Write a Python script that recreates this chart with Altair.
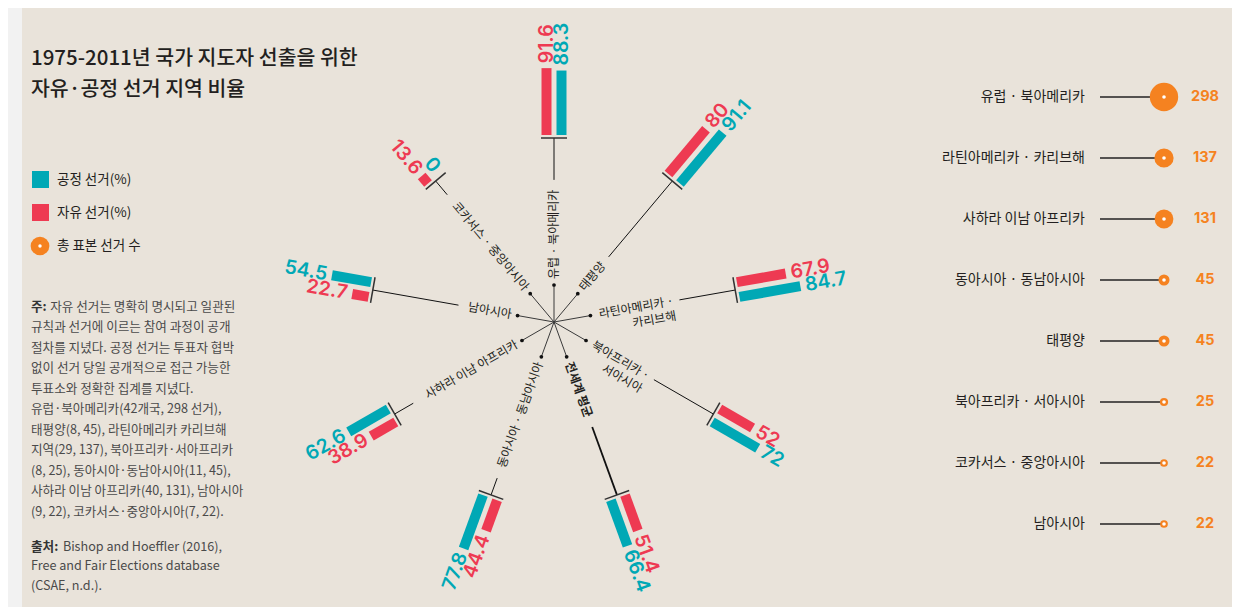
import altair as alt
import pandas as pd

# ---------------- data ----------------
spoke_regions = ["유럽 · 북아메리카", "태평양", "라틴아메리카 · 카리브해", "북아프리카 · 서아시아",
                 "전세계 평균", "동아시아 · 동남아시아", "사하라 이남 아프리카", "남아시아",
                 "코카서스 · 중앙아시아"]
spoke_label_lines = [["유럽 · 북아메리카"], ["태평양"], ["라틴아메리카 ·", "카리브해"],
                     ["북아프리카 ·", "서아시아"], ["전세계 평균"], ["동아시아 · 동남아시아"],
                     ["사하라 이남 아프리카"], ["남아시아"], ["코카서스 · 중앙아시아"]]
fair_pct = [88.3, 91.1, 84.7, 72, 66.4, 77.8, 62.6, 54.5, 0]
free_pct = [91.6, 80, 67.9, 52, 51.4, 44.4, 38.9, 22.7, 13.6]

count_regions = ["유럽 · 북아메리카", "라틴아메리카 · 카리브해", "사하라 이남 아프리카",
                 "동아시아 · 동남아시아", "태평양", "북아프리카 · 서아시아",
                 "코카서스 · 중앙아시아", "남아시아"]
election_counts = [298, 137, 131, 45, 45, 25, 22, 22]

legend_labels = ["공정 선거(%)", "자유 선거(%)", "총 표본 선거 수"]
legend_kinds = ["fair", "free", "count"]

title_lines = ["1975-2011년 국가 지도자 선출을 위한", "자유·공정 선거 지역 비율"]
note_head = "주:"
note_lines = ["자유 선거는 명확히 명시되고 일관된",
              "규칙과 선거에 이르는 참여 과정이 공개",
              "절차를 지녔다. 공정 선거는 투표자 협박",
              "없이 선거 당일 공개적으로 접근 가능한",
              "투표소와 정확한 집계를 지녔다.",
              "유럽·북아메리카(42개국, 298 선거),",
              "태평양(8, 45), 라틴아메리카 카리브해",
              "지역(29, 137), 북아프리카·서아프리카",
              "(8, 25), 동아시아·동남아시아(11, 45),",
              "사하라 이남 아프리카(40, 131), 남아시아",
              "(9, 22), 코카서스·중앙아시아(7, 22)."]
source_head = "출처:"
source_lines = ["Bishop and Hoeffler (2016),", "Free and Fair Elections database", "(CSAE, n.d.)."]

# ---------------- layout / style ----------------
W, H = 1224, 599
PAGE = 8
BG = "#E9E3DA"
STRIP = "#F2F2F2"
TEAL = "#00A8B5"
RED = "#EE3A52"
ORANGE = "#F58220"
INK = "#231F20"
NOTE = "#4A4A4A"
KR = "Noto Sans CJK KR"
NUM = "Inter"

CX, CY = 554, 322      # centre of the radial chart
STEP = 40              # degrees between spokes
R_DOT = 37
R_IN = 43
R0 = 184
GAP = 3
K = 0.73               # px per percentage point
OFF = 7.5
TICK = 13
LAB_FS = 12
LINE_H = 15
VAL_FS = 19.5

XS = alt.Scale(domain=[PAGE, PAGE + W], nice=False, zero=False)
YS = alt.Scale(domain=[PAGE + H, PAGE], nice=False, zero=False)


def X(f="x"):
    return alt.X(f"{f}:Q", scale=XS, axis=None)


def Y(f="y"):
    return alt.Y(f"{f}:Q", scale=YS, axis=None)


def est_w(s, f):
    w = 0.0
    for ch in s:
        if "\uac00" <= ch <= "\ud7a3":
            w += f
        elif ch == " ":
            w += 0.23 * f
        elif ch in "·:":
            w += 0.3 * f
        else:
            w += 0.55 * f
    return w


TH = f"datum.idx*{STEP}*PI/180"
ANG = f"datum.idx*{STEP} < 180 ? (datum.idx*{STEP}+270)%360 : (datum.idx*{STEP}+90)%360"


def px(r, o="0"):
    return f"{CX} + ({r})*sin(datum.th) + ({o})*cos(datum.th)"


def py(r, o="0"):
    return f"{CY} - ({r})*cos(datum.th) + ({o})*sin(datum.th)"


series_color = alt.Color("series:N", scale=alt.Scale(domain=["fair", "free"], range=[TEAL, RED]),
                         legend=None)

# ---------------- radial bars ----------------
n = len(spoke_regions)
bar_df = pd.DataFrame({
    "idx": list(range(n)) * 2,
    "region": spoke_regions * 2,
    "series": ["fair"] * n + ["free"] * n,
    "value": fair_pct + free_pct,
})
bar_df["label"] = [f"{v:g}" for v in bar_df["value"]]

base_bar = (alt.Chart(bar_df)
            .transform_calculate(th=TH)
            .transform_calculate(o=f"datum.series=='fair' ? {OFF} : {-OFF}")
            .transform_calculate(r1=f"{R0 + GAP}")
            .transform_calculate(r2=f"datum.r1 + datum.value*{K}")
            .transform_calculate(rl="datum.r2 + 5")
            .transform_calculate(x=px("datum.r1", "datum.o"), y=py("datum.r1", "datum.o"))
            .transform_calculate(x2=px("datum.r2", "datum.o"), y2=py("datum.r2", "datum.o"))
            .transform_calculate(lx=px("datum.rl", "datum.o"), ly=py("datum.rl", "datum.o"))
            .transform_calculate(ang=ANG))

bars = base_bar.mark_rule(strokeWidth=10, strokeCap="butt").encode(
    x=X(), y=Y(), x2="x2:Q", y2="y2:Q", color=series_color)

val_out = base_bar.transform_filter(f"datum.idx*{STEP} < 180").mark_text(
    align="left", baseline="middle", font=NUM, fontWeight=600, fontSize=VAL_FS).encode(
    x=X("lx"), y=Y("ly"), text="label:N", angle=alt.Angle("ang:Q", scale=None), color=series_color)

val_in = base_bar.transform_filter(f"datum.idx*{STEP} >= 180").mark_text(
    align="right", baseline="middle", font=NUM, fontWeight=600, fontSize=VAL_FS).encode(
    x=X("lx"), y=Y("ly"), text="label:N", angle=alt.Angle("ang:Q", scale=None), color=series_color)

# ---------------- spokes, ticks, connectors ----------------
spoke_df = pd.DataFrame({
    "idx": list(range(n)),
    "region": spoke_regions,
    "w": [max(est_w(t, LAB_FS) for t in lines) for lines in spoke_label_lines],
    "world": [r == "전세계 평균" for r in spoke_regions],
})
spoke_df["sw"] = [1.8 if w else 1.0 for w in spoke_df["world"]]

base_spoke = alt.Chart(spoke_df).transform_calculate(th=TH)

inner = base_spoke.transform_calculate(
    x=px("0"), y=py("0"), x2=px(R_DOT), y2=py(R_DOT)).mark_rule(
    color="#3A3A3A", strokeWidth=1).encode(x=X(), y=Y(), x2="x2:Q", y2="y2:Q")

dots = base_spoke.transform_calculate(x=px(R_DOT), y=py(R_DOT)).mark_circle(
    color="#111111", size=14, opacity=1).encode(x=X(), y=Y())

ticks = base_spoke.transform_calculate(
    x=px(R0, -TICK), y=py(R0, -TICK), x2=px(R0, TICK), y2=py(R0, TICK)).mark_rule(
    color="#333333", strokeWidth=1.5).encode(x=X(), y=Y(), x2="x2:Q", y2="y2:Q")

connectors = base_spoke.transform_calculate(rs=f"{R_IN} + datum.w + 6").transform_calculate(
    x=px("datum.rs"), y=py("datum.rs"), x2=px(R0), y2=py(R0)).mark_rule(
    color="#111111").encode(x=X(), y=Y(), x2="x2:Q", y2="y2:Q",
                            strokeWidth=alt.StrokeWidth("sw:Q", scale=None))

# ---------------- spoke labels ----------------
lab_rows = []
for i, lines in enumerate(spoke_label_lines):
    w = max(est_w(t, LAB_FS) for t in lines)
    inward = i * STEP >= 180
    if len(lines) > 1:
        kind = "out2"
    elif spoke_regions[i] == "전세계 평균":
        kind = "world"
    elif inward:
        kind = "in"
    else:
        kind = "out"
    for j, t in enumerate(lines):
        lab_rows.append({"idx": i, "line": j, "text": t, "kind": kind, "w": w})
lab_df = pd.DataFrame(lab_rows)

base_lab = (alt.Chart(lab_df)
            .transform_calculate(th=TH)
            .transform_calculate(r=f"datum.kind=='out2' ? {R_IN} + datum.w : {R_IN}")
            .transform_calculate(o=f"datum.line*{LINE_H}")
            .transform_calculate(x=px("datum.r", "datum.o"), y=py("datum.r", "datum.o"))
            .transform_calculate(ang=ANG))


def lab_layer(kind, align, weight="normal"):
    return base_lab.transform_filter(f"datum.kind=='{kind}'").mark_text(
        align=align, baseline="middle", font=KR, fontSize=LAB_FS, fontWeight=weight,
        color=INK).encode(x=X(), y=Y(), text="text:N", angle=alt.Angle("ang:Q", scale=None))


labels_out = lab_layer("out", "left")
labels_out2 = lab_layer("out2", "right")
labels_world = lab_layer("world", "left", "bold")
labels_in = lab_layer("in", "right")

# ---------------- right panel: number of elections ----------------
cnt_df = pd.DataFrame({"rank": list(range(len(count_regions))),
                       "region": count_regions, "count": election_counts})
base_cnt = alt.Chart(cnt_df).transform_calculate(y="97 + 61*datum.rank")

cnt_labels = base_cnt.transform_calculate(x="1085").mark_text(
    align="right", baseline="middle", font=KR, fontSize=14, color=INK).encode(
    x=X(), y=Y(), text="region:N")
cnt_lines = base_cnt.transform_calculate(x="1100", x2="1164").mark_rule(
    color="#222222", strokeWidth=1.3).encode(x=X(), y=Y(), x2="x2:Q")
cnt_circles = base_cnt.transform_calculate(x="1164").mark_circle(
    color=ORANGE, opacity=1).encode(
    x=X(), y=Y(), size=alt.Size("count:Q", scale=alt.Scale(domain=[0, 298], range=[0, 804]),
                                legend=None))
cnt_holes = base_cnt.transform_calculate(x="1164").mark_circle(
    color="white", opacity=1, size=13).encode(x=X(), y=Y())
cnt_values = base_cnt.transform_calculate(x="1205").mark_text(
    align="center", baseline="middle", font=NUM, fontWeight=700, fontSize=14.5,
    color=ORANGE).encode(x=X(), y=Y(), text="count:Q")

# ---------------- legend ----------------
leg_df = pd.DataFrame({"i": list(range(3)), "label": legend_labels, "kind": legend_kinds})
base_leg = alt.Chart(leg_df).transform_calculate(y="179.5 + 33*datum.i")
leg_sq = base_leg.transform_filter("datum.kind != 'count'").transform_calculate(x="40.5").mark_square(
    size=289, opacity=1).encode(
    x=X(), y=Y(), color=alt.Color("kind:N", scale=alt.Scale(domain=["fair", "free"], range=[TEAL, RED]),
                                  legend=None))
leg_circ = base_leg.transform_filter("datum.kind == 'count'").transform_calculate(
    x="40", y="246").mark_circle(size=350, color=ORANGE, opacity=1).encode(x=X(), y=Y())
leg_hole = base_leg.transform_filter("datum.kind == 'count'").transform_calculate(
    x="40", y="246").mark_circle(size=12, color="white", opacity=1).encode(x=X(), y=Y())
leg_txt = base_leg.transform_calculate(x="57").transform_calculate(
    y="datum.kind=='count' ? 246 : datum.y").mark_text(
    align="left", baseline="middle", font=KR, fontSize=13.5, color=INK).encode(
    x=X(), y=Y(), text="label:N")

# ---------------- title & notes ----------------
title_df = pd.DataFrame({"i": [0, 1], "text": title_lines})
title = alt.Chart(title_df).transform_calculate(x="31", y="58.5 + 31*datum.i").mark_text(
    align="left", baseline="middle", font=KR, fontSize=20.5, fontWeight=500, color=INK).encode(
    x=X(), y=Y(), text="text:N")

NOTE_FS = 12.6
note_df = pd.DataFrame({"i": list(range(len(note_lines))), "text": note_lines})
note_df["x"] = [31 + (est_w(note_head + " ", NOTE_FS) if i == 0 else 0) for i in range(len(note_lines))]
note = alt.Chart(note_df).transform_calculate(y="306.7 + 20.5*datum.i").mark_text(
    align="left", baseline="middle", font=KR, fontSize=NOTE_FS, color=NOTE).encode(
    x=X(), y=Y(), text="text:N")

src_df = pd.DataFrame({"i": list(range(len(source_lines))), "text": source_lines})
src_df["x"] = [31 + (est_w(source_head + " ", NOTE_FS) if i == 0 else 0) for i in range(len(source_lines))]
source = alt.Chart(src_df).transform_calculate(y="546.7 + 19.4*datum.i").mark_text(
    align="left", baseline="middle", font=KR, fontSize=NOTE_FS, color=NOTE).encode(
    x=X(), y=Y(), text="text:N")

heads_df = pd.DataFrame({"text": [note_head, source_head], "y": [306.7, 546.7]})
heads = alt.Chart(heads_df).transform_calculate(x="31").mark_text(
    align="left", baseline="middle", font=KR, fontSize=NOTE_FS, fontWeight="bold", color="#333333").encode(
    x=X(), y=Y(), text="text:N")

strip = alt.Chart(pd.DataFrame({"a": [0]})).mark_rect(color=STRIP).encode(
    x=alt.value(0), x2=alt.value(14), y=alt.value(0), y2=alt.value(H))

chart = alt.layer(
    strip,
    inner, dots, connectors, ticks, bars, val_out, val_in,
    labels_out, labels_out2, labels_world, labels_in,
    cnt_lines, cnt_circles, cnt_holes, cnt_labels, cnt_values,
    leg_sq, leg_circ, leg_hole, leg_txt,
    title, note, source, heads,
).properties(
    width=W, height=H, background=BG, padding=0,
    autosize=alt.AutoSizeParams(type="none"),
).configure_view(stroke=None)

chart.save("out.html", embed_options={"renderer": "svg", "actions": False})
